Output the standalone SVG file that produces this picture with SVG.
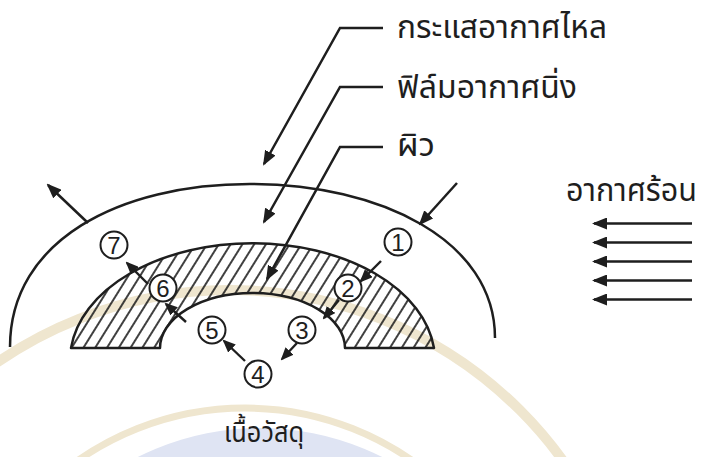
<svg xmlns="http://www.w3.org/2000/svg" width="702" height="457" viewBox="0 0 702 457">
  <style>
    .ln { fill: none; stroke: #1e1e1e; stroke-width: 2.5; }
    .thin { fill: none; stroke: #1e1e1e; stroke-width: 2.4; }
    .arr { marker-end: url(#head); }
    .sarr { marker-end: url(#shead); }
    .num circle { fill: #fff; stroke: #1e1e1e; stroke-width: 2; }
    .num text { font-family: "Liberation Sans", Arial, sans-serif; font-size: 24px; fill: #1e1e1e; text-anchor: middle; }
    .lbl { font-family: "Noto Sans Thai", "Noto Sans", "DejaVu Sans", sans-serif; font-size: 32px; fill: #1e1e1e; }
    .seal { fill: none; stroke: #efe6cf; }
  </style>
  <defs>
    <marker id="head" markerUnits="userSpaceOnUse" markerWidth="15" markerHeight="12" refX="13" refY="6" orient="auto">
      <path d="M0,0 L15,6 L0,12 Z" fill="#1e1e1e"/>
    </marker>
    <marker id="shead" markerUnits="userSpaceOnUse" markerWidth="13" markerHeight="11" refX="11" refY="5.5" orient="auto">
      <path d="M0,0 L13,5.5 L0,11 Z" fill="#1e1e1e"/>
    </marker>
    <pattern id="hatch" width="10" height="10" patternUnits="userSpaceOnUse" patternTransform="rotate(32)">
      <line x1="5" y1="0" x2="5" y2="10" stroke="#1e1e1e" stroke-width="1.7"/>
    </pattern>
  </defs>

  <rect width="702" height="457" fill="#fff"/>

  <!-- faint seal printed behind the drawing -->
  <g id="seal">
    <circle cx="260" cy="700" r="272" fill="#dfe4f3" stroke="none"/>
    <circle class="seal" cx="230" cy="700" r="410" stroke-width="10"/>
    <circle class="seal" cx="245" cy="700" r="292" stroke-width="7"/>
  </g>

  <!-- boundary of the flowing air stream -->
  <g id="airstream">
    <path class="ln" d="M10,347 C10,240 120,184 250,184 C380,184 495,240 495,338"/>
  </g>

  <!-- hatched solid: material shell -->
  <g id="material">
    <path d="M71,348 A182.5,117 0 0 1 434,348 L345,348 A92.5,55 0 0 0 160,348 Z" fill="url(#hatch)" stroke="#1e1e1e" stroke-width="2.5" stroke-linejoin="round"/>
  </g>

  <g id="connectors">
    <!-- leaders from the labels -->
    <path class="ln arr" d="M383,28 L340,28 L264,164"/>
    <path class="ln arr" d="M383,87 L340,87 L264,222"/>
    <path class="ln arr" d="M383,147 L340,147 L267,279"/>
    <!-- air in / air out across the stream -->
    <line class="ln arr" x1="88" y1="223" x2="48" y2="185"/>
    <line class="ln arr" x1="457" y1="183" x2="420" y2="224"/>
    <!-- hot air arriving -->
    <line class="ln arr" x1="692" y1="223.5" x2="594" y2="223.5"/>
    <line class="ln arr" x1="692" y1="242.5" x2="594" y2="242.5"/>
    <line class="ln arr" x1="692" y1="261.5" x2="594" y2="261.5"/>
    <line class="ln arr" x1="692" y1="280.5" x2="594" y2="280.5"/>
    <line class="ln arr" x1="692" y1="299.5" x2="594" y2="299.5"/>
    <!-- transfer steps -->
    <line class="thin sarr" x1="381" y1="261" x2="361" y2="281"/>
    <line class="thin sarr" x1="339" y1="300" x2="324" y2="318"/>
    <line class="thin sarr" x1="297" y1="343" x2="282" y2="359"/>
    <line class="thin sarr" x1="245" y1="361" x2="224" y2="341"/>
    <line class="thin sarr" x1="186" y1="322" x2="166" y2="304"/>
    <line class="thin sarr" x1="148" y1="284" x2="127" y2="263"/>
  </g>

  <g id="step1" class="num"><circle cx="398" cy="242" r="13.5"/><text x="398" y="250.5">1</text></g>
  <g id="step2" class="num"><circle cx="348" cy="288" r="13.5"/><text x="348" y="296.5">2</text></g>
  <g id="step3" class="num"><circle cx="302" cy="330" r="13.5"/><text x="302" y="338.5">3</text></g>
  <g id="step4" class="num"><circle cx="258" cy="374" r="13.5"/><text x="258" y="382.5">4</text></g>
  <g id="step5" class="num"><circle cx="212" cy="330" r="13.5"/><text x="212" y="338.5">5</text></g>
  <g id="step6" class="num"><circle cx="163" cy="288" r="13.5"/><text x="163" y="296.5">6</text></g>
  <g id="step7" class="num"><circle cx="114" cy="245" r="13.5"/><text x="114" y="253.5">7</text></g>

  <g id="labels">
    <text class="lbl" x="397" y="38" textLength="210" lengthAdjust="spacingAndGlyphs">กระแสอากาศไหล</text>
    <text class="lbl" x="397" y="98" textLength="180" lengthAdjust="spacingAndGlyphs">ฟิล์มอากาศนิ่ง</text>
    <text class="lbl" x="397" y="156" textLength="38" lengthAdjust="spacingAndGlyphs">ผิว</text>
    <text class="lbl" x="566" y="201" textLength="131" lengthAdjust="spacingAndGlyphs">อากาศร้อน</text>
    <text class="lbl" x="224" y="442" style="font-size:28px" textLength="80" lengthAdjust="spacingAndGlyphs">เนื้อวัสดุ</text>
  </g>
</svg>
